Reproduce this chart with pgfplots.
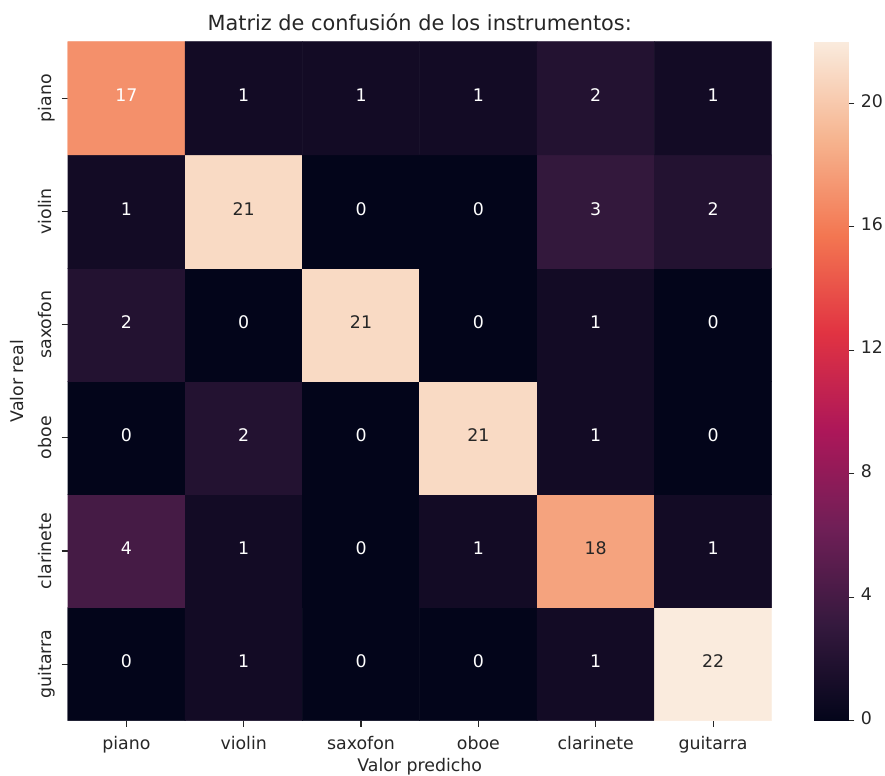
\documentclass[border=0pt]{standalone}
\usepackage{fontspec}
\setmainfont{DejaVu Sans}
\usepackage{pgfplots}
\usepackage{pgfplotstable}
\pgfplotsset{compat=1.18}

\definecolor{labelgray}{HTML}{262626}

% confusion matrix: x = predicted class, y = true class (5 = piano ... 0 = guitarra)
\pgfplotstableread{
x y v
0 0 0
1 0 1
2 0 0
3 0 0
4 0 1
5 0 22
0 1 4
1 1 1
2 1 0
3 1 1
4 1 18
5 1 1
0 2 0
1 2 2
2 2 0
3 2 21
4 2 1
5 2 0
0 3 2
1 3 0
2 3 21
3 3 0
4 3 1
5 3 0
0 4 1
1 4 21
2 4 0
3 4 0
4 4 3
5 4 2
0 5 17
1 5 1
2 5 1
3 5 1
4 5 2
5 5 1
}\confmat

\newcommand{\tickfont}{\fontsize{12.5}{15}\selectfont}

\pgfplotsset{
  colormap={rocket}{
    rgb255=(3,5,26) rgb255=(53,25,62) rgb255=(112,31,87) rgb255=(173,23,89)
    rgb255=(225,51,66) rgb255=(243,118,81) rgb255=(246,180,143) rgb255=(250,235,221)},
  /pgf/number format/assume math mode=true,
  heatstyle/.style={
    scale only axis,
    axis line style={draw=none},
    tick align=outside,
    major tick length=4.4pt,
    ticklabel shift=4.4pt,
    tick style={labelgray, line width=0.8pt},
    ticklabel style={font=\tickfont, text=labelgray, inner sep=0pt,
      text height=0.76em, text depth=0.24em},
    point meta min=0, point meta max=22,
  },
}

\begin{document}
\begin{tikzpicture}
\path[use as bounding box] (-48.74pt,-39.1pt) rectangle (588.46pt,518.9pt);
\begin{axis}[
  heatstyle,
  at={(0,0)}, anchor=south west,
  width=506.9pt, height=488.9pt,
  xmin=-0.5, xmax=5.5, ymin=-0.5, ymax=5.5,
  tick pos=left,
  xtick={0,...,5},
  xticklabels={piano,violin,saxofon,oboe,clarinete,guitarra},
  ytick={0,...,5},
  yticklabels={guitarra,clarinete,oboe,saxofon,violin,piano},
  xticklabel style={anchor=north, yshift=-4pt},
  yticklabel style={rotate=90, anchor=south},
  title={Matriz de confusión de los instrumentos:},
  title style={font=\fontsize{15}{18}\selectfont, text=labelgray,
    at={(axis description cs:0.5,1)}, anchor=base, yshift=2.3pt, inner sep=0pt},
  xlabel={Valor predicho},
  xlabel style={font=\tickfont, text=labelgray, inner sep=0pt,
    at={(axis description cs:0.5,0)}, anchor=base, yshift=-36.6pt},
  ylabel={Valor real},
  ylabel style={font=\tickfont, text=labelgray, inner sep=0pt,
    at={(axis description cs:-0.0625,0.5)}, anchor=base},
]
\addplot[matrix plot*, mesh/cols=6, point meta=explicit]
  table[x=x, y=y, meta=v] {\confmat};
\addplot[draw=none, point meta=explicit,
  visualization depends on={\thisrow{v} \as \cellv},
  nodes near coords={\ifdim\cellv pt>17.5pt\color{labelgray}\else\color{white}\fi\pgfmathprintnumber{\cellv}},
  nodes near coords align=center,
  every node near coord/.append style={font=\tickfont, inner sep=0pt,
    anchor=center, text height=0.76em, text depth=0.24em}]
  table[x=x, y=y, meta=v] {\confmat};
\end{axis}

% colour scale
\begin{axis}[
  heatstyle,
  at={(537.55pt,0)}, anchor=south west,
  width=24.5pt, height=488.9pt,
  xmin=0, xmax=1, ymin=0, ymax=22,
  enlargelimits=false,
  xtick=\empty,
  ytick={0,4,...,20},
  ytick pos=right, yticklabel pos=right,
  yticklabel style={anchor=west},
]
\addplot[surf, shader=interp, mesh/cols=2, point meta=y] coordinates {
  (0,0) (1,0)
  (0,3.142857) (1,3.142857)
  (0,6.285714) (1,6.285714)
  (0,9.428571) (1,9.428571)
  (0,12.571429) (1,12.571429)
  (0,15.714286) (1,15.714286)
  (0,18.857143) (1,18.857143)
  (0,22) (1,22)
};
\end{axis}
\end{tikzpicture}
\end{document}
